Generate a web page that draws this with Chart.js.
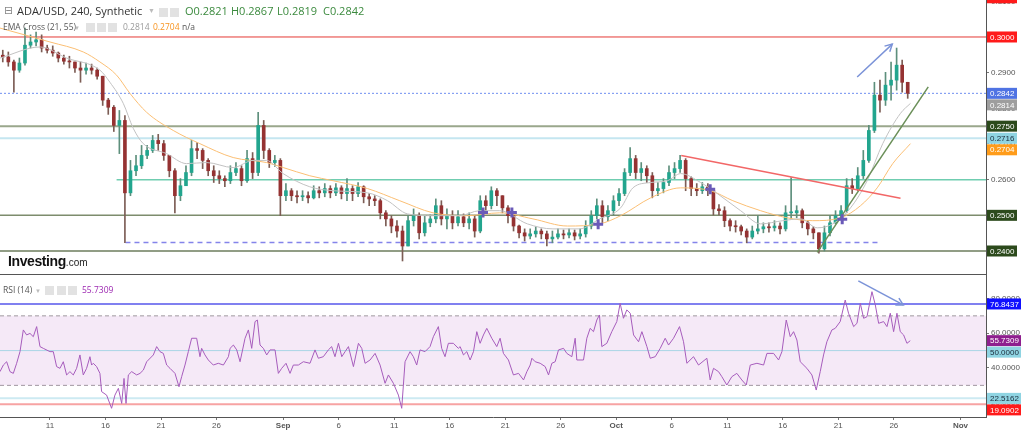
<!DOCTYPE html>
<html>
<head>
<meta charset="utf-8">
<script src="https://cdn.jsdelivr.net/npm/chart.js@4.4.1/dist/chart.umd.min.js"></script>
<style>
  body { margin: 0; background: #fff; width: 1024px; height: 433px; overflow: hidden; position: relative; }
  canvas { position: absolute; left: 0; }
  #priceChart { top: 0; }
  #rsiChart { top: 275px; }
  .t { position: absolute; white-space: nowrap; line-height: 1; font-family: "Open Sans", sans-serif; }
  .ic { position: absolute; width: 9px; height: 9px; background: #e2e2e2; }
</style>
</head>
<body>
<canvas id="priceChart" width="1024" height="275"></canvas>
<canvas id="rsiChart" width="1024" height="158"></canvas>

<div class="t" style="left:4px;top:5px;font-size:11px;color:#888;font-family:'DejaVu Sans'">⊟</div>
<div class="t" style="left:17px;top:5px;font-size:11px;color:#333">ADA/USD, 240, Synthetic</div>
<div class="t" style="left:148px;top:7px;font-size:7px;color:#bbb">▼</div>
<span class="ic" style="left:159px;top:8px"></span><span class="ic" style="left:170px;top:8px"></span>
<div class="t" style="left:185px;top:5px;font-size:11px;color:#3b8a3e">O0.2821</div>
<div class="t" style="left:231px;top:5px;font-size:11px;color:#3b8a3e">H0.2867</div>
<div class="t" style="left:277px;top:5px;font-size:11px;color:#3b8a3e">L0.2819</div>
<div class="t" style="left:323px;top:5px;font-size:11px;color:#3b8a3e">C0.2842</div>

<div class="t" style="left:3px;top:23px;font-size:8.5px;color:#555">EMA Cross (21, 55)</div>
<div class="t" style="left:74px;top:25px;font-size:6px;color:#bbb">▼</div>
<span class="ic" style="left:86px;top:23px"></span><span class="ic" style="left:97px;top:23px"></span><span class="ic" style="left:108px;top:23px"></span>
<div class="t" style="left:123px;top:23px;font-size:8.5px;color:#999">0.2814</div>
<div class="t" style="left:153px;top:23px;font-size:8.5px;color:#f7931e">0.2704</div>
<div class="t" style="left:182px;top:23px;font-size:8.5px;color:#555">n/a</div>

<div class="t" style="left:8px;top:254px;font-size:14px;font-weight:bold;color:#111;font-family:'Liberation Sans',Arial;letter-spacing:-0.4px">Investing<span style="font-size:10px;font-weight:normal;color:#222;letter-spacing:0">.com</span></div>

<div class="t" style="left:3px;top:286px;font-size:8.5px;color:#555">RSI (14)</div>
<div class="t" style="left:35px;top:288px;font-size:6px;color:#bbb">▼</div>
<span class="ic" style="left:45px;top:286px"></span><span class="ic" style="left:57px;top:286px"></span><span class="ic" style="left:68px;top:286px"></span>
<div class="t" style="left:82px;top:286px;font-size:8.5px;color:#9c27b0">55.7309</div>

<script>
// time is in days, Aug 1 = 0; one candle every 12 hours
const candleStart = 5.75;
const candleStep = 0.5;

const opens = [
  0.2949,0.2944,0.2930,0.2907,0.2927,0.2977,0.2986,0.2992,0.2969,0.2963,
  0.2955,0.2941,0.2932,0.2930,0.2913,0.2907,0.2913,0.2907,0.2890,0.2823,
  0.2803,0.2752,0.2766,0.2563,0.2625,0.2639,0.2668,0.2682,0.2710,0.2701,
  0.2668,0.2625,0.2555,0.2583,0.2620,0.2687,0.2682,0.2654,0.2625,0.2611,
  0.2603,0.2597,0.2620,0.2631,0.2597,0.2659,0.2620,0.2752,0.2682,0.2648,
  0.2654,0.2555,0.2569,0.2555,0.2552,0.2555,0.2549,0.2569,0.2563,0.2575,
  0.2563,0.2577,0.2561,0.2575,0.2561,0.2580,0.2552,0.2546,0.2541,0.2507,
  0.2490,0.2470,0.2456,0.2414,0.2485,0.2499,0.2451,0.2479,0.2490,0.2527,
  0.2490,0.2499,0.2479,0.2496,0.2479,0.2490,0.2456,0.2541,0.2527,0.2569,
  0.2555,0.2521,0.2499,0.2470,0.2451,0.2442,0.2448,0.2456,0.2448,0.2434,
  0.2439,0.2448,0.2445,0.2451,0.2442,0.2448,0.2470,0.2499,0.2527,0.2496,
  0.2513,0.2541,0.2561,0.2620,0.2659,0.2620,0.2631,0.2611,0.2569,0.2575,
  0.2592,0.2620,0.2631,0.2654,0.2603,0.2575,0.2569,0.2580,0.2569,0.2518,
  0.2513,0.2485,0.2470,0.2468,0.2456,0.2439,0.2456,0.2462,0.2468,0.2465,
  0.2470,0.2462,0.2507,0.2507,0.2513,0.2479,0.2462,0.2451,0.2406,0.2451,
  0.2479,0.2499,0.2513,0.2583,0.2575,0.2611,0.2654,0.2738,0.2837,0.2823,
  0.2865,0.2879,0.2921,0.2873
];
const highs = [
  0.2963,0.2958,0.2935,0.2941,0.3025,0.3006,0.3014,0.3006,0.2977,0.2975,
  0.2958,0.2949,0.2946,0.2930,0.2930,0.2927,0.2924,0.2913,0.2890,0.2828,
  0.2808,0.2794,0.2780,0.2654,0.2668,0.2696,0.2696,0.2724,0.2727,0.2710,
  0.2668,0.2631,0.2603,0.2639,0.2710,0.2704,0.2687,0.2659,0.2639,0.2625,
  0.2611,0.2639,0.2648,0.2639,0.2682,0.2676,0.2789,0.2766,0.2687,0.2668,
  0.2659,0.2589,0.2575,0.2569,0.2569,0.2566,0.2583,0.2580,0.2589,0.2583,
  0.2589,0.2583,0.2603,0.2583,0.2592,0.2583,0.2561,0.2555,0.2546,0.2513,
  0.2499,0.2485,0.2470,0.2499,0.2518,0.2507,0.2499,0.2501,0.2546,0.2541,
  0.2518,0.2513,0.2513,0.2504,0.2507,0.2499,0.2555,0.2555,0.2580,0.2575,
  0.2555,0.2527,0.2507,0.2473,0.2462,0.2462,0.2468,0.2462,0.2456,0.2456,
  0.2462,0.2459,0.2462,0.2459,0.2462,0.2485,0.2513,0.2546,0.2541,0.2527,
  0.2555,0.2575,0.2631,0.2690,0.2668,0.2648,0.2639,0.2620,0.2592,0.2603,
  0.2639,0.2648,0.2668,0.2659,0.2608,0.2589,0.2592,0.2589,0.2575,0.2530,
  0.2524,0.2490,0.2485,0.2473,0.2462,0.2470,0.2499,0.2479,0.2479,0.2485,
  0.2479,0.2527,0.2606,0.2527,0.2518,0.2485,0.2468,0.2451,0.2470,0.2499,
  0.2513,0.2527,0.2603,0.2603,0.2634,0.2682,0.2752,0.2873,0.2879,0.2901,
  0.2930,0.2969,0.2935,0.2873
];
const lows = [
  0.2930,0.2918,0.2845,0.2901,0.2921,0.2969,0.2975,0.2958,0.2955,0.2946,
  0.2930,0.2924,0.2913,0.2901,0.2873,0.2896,0.2896,0.2882,0.2808,0.2783,
  0.2735,0.2673,0.2423,0.2555,0.2611,0.2631,0.2659,0.2676,0.2682,0.2654,
  0.2608,0.2507,0.2541,0.2583,0.2611,0.2659,0.2631,0.2611,0.2592,0.2589,
  0.2580,0.2589,0.2611,0.2583,0.2592,0.2603,0.2611,0.2659,0.2634,0.2637,
  0.2499,0.2541,0.2541,0.2535,0.2541,0.2535,0.2546,0.2549,0.2552,0.2549,
  0.2555,0.2546,0.2541,0.2541,0.2552,0.2535,0.2527,0.2527,0.2490,0.2470,
  0.2451,0.2439,0.2372,0.2414,0.2470,0.2434,0.2442,0.2468,0.2479,0.2473,
  0.2462,0.2462,0.2470,0.2468,0.2462,0.2439,0.2451,0.2507,0.2518,0.2527,
  0.2507,0.2479,0.2456,0.2437,0.2428,0.2434,0.2439,0.2434,0.2414,0.2423,
  0.2434,0.2434,0.2437,0.2431,0.2434,0.2439,0.2462,0.2490,0.2479,0.2485,
  0.2501,0.2527,0.2555,0.2611,0.2603,0.2597,0.2592,0.2549,0.2555,0.2563,
  0.2583,0.2603,0.2620,0.2569,0.2555,0.2555,0.2561,0.2555,0.2501,0.2501,
  0.2468,0.2456,0.2453,0.2445,0.2423,0.2434,0.2448,0.2451,0.2453,0.2456,
  0.2448,0.2456,0.2490,0.2493,0.2465,0.2445,0.2434,0.2394,0.2400,0.2442,
  0.2476,0.2493,0.2507,0.2561,0.2569,0.2603,0.2648,0.2732,0.2789,0.2808,
  0.2823,0.2851,0.2845,0.2828
];
const closes = [
  0.2944,0.2930,0.2907,0.2927,0.2977,0.2986,0.2992,0.2969,0.2963,0.2955,
  0.2941,0.2932,0.2930,0.2913,0.2907,0.2913,0.2907,0.2890,0.2823,0.2803,
  0.2752,0.2766,0.2563,0.2625,0.2639,0.2668,0.2682,0.2710,0.2701,0.2668,
  0.2625,0.2555,0.2583,0.2620,0.2687,0.2682,0.2654,0.2625,0.2611,0.2603,
  0.2597,0.2620,0.2631,0.2597,0.2659,0.2620,0.2752,0.2682,0.2648,0.2654,
  0.2555,0.2569,0.2555,0.2552,0.2555,0.2549,0.2569,0.2563,0.2575,0.2563,
  0.2577,0.2561,0.2575,0.2561,0.2580,0.2552,0.2546,0.2541,0.2507,0.2490,
  0.2470,0.2456,0.2414,0.2485,0.2499,0.2451,0.2479,0.2490,0.2527,0.2490,
  0.2499,0.2479,0.2496,0.2479,0.2490,0.2456,0.2541,0.2527,0.2569,0.2555,
  0.2521,0.2499,0.2470,0.2451,0.2442,0.2448,0.2456,0.2448,0.2434,0.2439,
  0.2448,0.2445,0.2451,0.2442,0.2448,0.2470,0.2499,0.2527,0.2496,0.2513,
  0.2541,0.2561,0.2620,0.2659,0.2620,0.2631,0.2611,0.2569,0.2575,0.2592,
  0.2620,0.2631,0.2654,0.2603,0.2575,0.2569,0.2580,0.2569,0.2518,0.2513,
  0.2485,0.2470,0.2468,0.2456,0.2439,0.2456,0.2462,0.2468,0.2465,0.2470,
  0.2462,0.2507,0.2507,0.2513,0.2479,0.2462,0.2451,0.2406,0.2451,0.2479,
  0.2499,0.2513,0.2583,0.2575,0.2611,0.2654,0.2738,0.2837,0.2823,0.2865,
  0.2879,0.2921,0.2873,0.2842
];

// EMA Cross (21, 55)
const ema21Days = [5.5,9.1,11.5,14.5,15.4,16.6,17.5,18.4,20.5,22.3,24.1,26.5,28.3,29.5,31.0,33.4,35.5,38.6,40.4,42.2,
  44.5,46.9,48.7,50.5,53.0,55.3,57.7,59.5,61.4,62.5,64.1,65.6,66.8,68.6,70.1,72.2,74.0,76.0,77.6,79.1,80.5,82.1,83.6,85.0,86.6,87.5];
const ema21 = [0.2941,0.2972,0.2941,0.2907,0.2873,0.2814,0.2744,0.2701,0.2673,0.2645,0.2648,0.2634,0.2654,0.2654,0.2617,0.2580,0.2569,0.2563,0.2541,0.2504,
  0.2499,0.2499,0.2513,0.2513,0.2476,0.2462,0.2462,0.2490,0.2521,0.2577,0.2592,0.2597,0.2617,0.2592,0.2561,0.2513,0.2476,0.2485,0.2490,0.2465,0.2476,0.2521,0.2597,0.2701,0.2786,0.2814];
const ema55Days = [5.5,10.0,13.0,14.5,16.0,17.2,18.7,21.1,23.5,26.5,29.5,31.0,33.4,35.5,38.6,41.5,44.5,47.6,50.5,53.5,
  56.6,59.5,61.4,64.1,66.8,69.5,71.5,74.0,76.4,78.7,81.2,83.0,84.5,85.9,87.5];
const ema55 = [0.3025,0.2986,0.2958,0.2930,0.2893,0.2842,0.2789,0.2738,0.2701,0.2662,0.2648,0.2634,0.2611,0.2597,0.2575,0.2541,0.2507,0.2499,0.2507,0.2490,
  0.2470,0.2476,0.2499,0.2549,0.2577,0.2569,0.2541,0.2513,0.2493,0.2485,0.2493,0.2527,0.2577,0.2645,0.2701];
const crossDays = [49.0, 51.6, 59.37, 69.46, 81.35];
const crossPrices = [0.2508, 0.2508, 0.2475, 0.2573, 0.2489];

// RSI (14)
const rsiDays = [
  5.50,5.80,6.10,6.40,6.70,7.00,7.30,7.60,7.90,8.20,8.50,8.80,9.10,9.40,10.00,10.30,10.60,10.90,11.20,11.50,
  11.80,12.10,12.40,12.70,13.00,13.30,13.60,13.75,13.90,14.20,14.50,14.65,15.10,15.55,15.85,16.16,16.46,16.67,16.85,17.06,
  17.36,17.81,18.11,18.41,18.71,19.31,19.61,19.91,20.21,20.51,20.81,21.26,21.62,21.86,22.16,22.46,22.76,23.21,23.51,23.66,
  23.96,24.26,24.71,25.16,25.62,26.07,26.22,26.52,26.82,27.12,27.57,27.87,28.17,28.47,28.68,28.92,29.22,29.52,29.82,30.27,
  30.57,30.87,31.26,31.62,31.92,32.37,32.82,33.42,33.87,34.17,34.62,35.07,35.37,35.67,35.98,36.28,36.58,36.88,37.33,37.78,
  38.08,38.38,38.83,39.28,39.73,40.18,40.48,40.93,41.38,41.68,41.98,42.43,42.73,43.03,43.33,43.78,44.23,44.53,44.98,45.28,
  45.58,45.88,46.33,46.78,
  46.94,47.24,47.54,47.84,48.14,48.44,48.74,49.04,49.34,49.79,50.24,50.54,50.84,51.29,51.74,52.20,52.65,52.95,53.25,53.40,
  53.70,54.15,54.60,54.90,55.20,55.50,55.80,56.25,56.55,57.00,57.30,57.45,58.05,58.35,58.65,58.95,59.25,59.49,59.70,60.15,
  60.60,61.05,61.35,61.65,61.95,62.26,62.56,63.01,63.31,63.76,64.06,64.51,64.96,65.41,65.71,66.16,66.70,67.06,67.36,67.96,
  68.41,69.16,69.46,69.76,70.21,70.51,70.96,71.41,71.86,72.31,72.71,73.07,73.67,74.27,74.57,75.17,75.62,75.92,76.31,76.67,
  76.97,77.27,77.57,78.17,78.62,79.01,79.37,79.67,79.97,80.42,80.72,81.17,81.62,81.92,82.38,82.68,82.98,83.28,83.58,84.03,
  84.33,84.63,85.08,85.38,85.68,85.98,86.28,86.58,86.88,87.18,87.48
];
const rsiValues = [
  37.9,41.7,43.6,37.9,36.9,42.7,49.4,61.9,59.0,59.9,58.0,63.8,52.3,51.3,49.4,49.4,40.8,39.8,43.6,36.0,
  37.9,36.0,39.8,47.5,36.0,39.8,46.5,41.7,42.7,40.8,36.9,26.4,24.4,16.8,24.4,28.3,19.6,34.0,19.6,36.0,
  37.9,36.0,36.9,38.8,43.6,47.5,52.3,49.4,48.4,41.7,39.8,36.9,29.2,35.0,41.7,49.4,57.1,57.1,46.5,51.3,
  47.5,44.6,41.7,42.7,41.7,46.5,51.3,53.2,50.4,43.6,57.1,61.9,51.3,66.7,67.6,53.2,51.3,47.5,50.4,50.4,
  36.9,39.8,42.7,36.9,41.7,41.7,43.6,42.7,50.4,45.6,46.5,50.4,52.3,46.5,54.2,46.5,49.4,52.3,40.8,54.2,
  51.3,42.7,44.6,48.4,41.7,31.2,36.0,31.2,24.4,16.8,43.6,49.4,46.5,41.7,50.4,49.4,52.3,58.0,63.8,51.3,
  46.5,54.2,54.2,51.3,
  52.3,47.5,49.4,44.6,49.4,60.9,54.2,59.0,62.8,57.1,52.3,57.1,48.4,44.6,36.0,36.9,33.1,37.9,41.7,45.6,
  43.6,42.7,40.8,36.0,42.7,43.6,50.4,51.3,48.4,46.5,57.1,44.6,44.6,57.1,62.8,60.9,67.6,70.5,52.3,54.2,
  60.9,66.7,77.2,68.6,73.4,71.5,59.0,55.1,60.9,52.3,45.6,46.5,51.3,57.1,53.2,57.1,63.8,55.1,42.7,46.5,
  41.7,45.6,33.1,39.8,37.9,35.0,30.2,35.0,36.9,33.1,30.2,41.7,42.7,41.7,48.4,48.4,44.6,49.4,67.6,58.0,
  60.9,56.1,43.6,39.8,36.0,27.3,37.9,47.5,55.1,61.9,62.8,66.7,79.1,71.5,63.8,65.7,77.2,68.6,69.5,83.9,
  76.3,65.7,66.7,63.8,71.5,60.9,71.5,60.9,59.0,54.2,55.7
];

// drawn levels and lines
const resistance = 0.3000;
const lastPrice = 0.2842;
const level2750 = 0.2750;
const level2716 = 0.2716;
const level2600 = 0.2600, level2600From = 16.0;
const supportLevels = [0.2500, 0.2400];
const dashedLow = 0.2424, dashedFrom = 16.8, dashedTo = 84.6;
const redTrendDays = [66.85, 86.6], redTrendPrices = [0.2668, 0.2548];
const greenTrendDays = [79.1, 89.1], greenTrendPrices = [0.2396, 0.2860];
const priceArrowDays = [82.7, 85.86], priceArrowPrices = [0.2888, 0.2980];
const rsiArrowDays = [82.8, 86.85], rsiArrowValues = [90.1, 76.3];
const rsiLevels = { top: 76.8437, upper: 70, mid: 50, lower: 30, low1: 22.5162, low2: 19.0902 };

const priceMarks = [0.3110, 0.3000, 0.2842, 0.2814, 0.2750, 0.2716, 0.2704, 0.2500, 0.2400];
const rsiMarks = [76.8437, 55.7309, 50.0000, 22.5162, 19.0902];
const priceTicks = [0.24, 0.25, 0.26, 0.27, 0.28, 0.29, 0.30, 0.31];
const rsiTicks = [20, 40, 60, 80];
const tickDays = [10, 15, 20, 25, 31, 36, 41, 46, 51, 56, 61, 66, 71, 76, 81, 86, 92];
const tickLabels = ['11', '16', '21', '26', 'Sep', '6', '11', '16', '21', '26', 'Oct', '6', '11', '16', '21', '26', 'Nov'];

const dayMin = 5.5, dayMax = 94.3;

// ---- styles for the axis value boxes
const priceMarkStyle = [
  ['#ff1a1a', '#fff'], ['#ff1a1a', '#fff'], ['#4f73e3', '#fff'], ['#9e9e9e', '#fff'], ['#2c4a1c', '#fff'],
  ['#8fd4e2', '#1a2a3a'], ['#ff9c1a', '#fff'], ['#2c4a1c', '#fff'], ['#2c4a1c', '#fff']
];
const rsiMarkStyle = [['#1010ff', '#fff'], ['#8e1f8e', '#fff'], ['#8fd4e2', '#1a2a3a'], ['#8fd4e2', '#1a2a3a'], ['#ff1a1a', '#fff']];

Chart.defaults.font.family = '"Liberation Sans", Arial, sans-serif';
Chart.defaults.font.size = 8;
Chart.defaults.color = '#555';

const candleDays = closes.map((c, i) => candleStart + i * candleStep);
const up = closes.map((c, i) => c >= opens[i]);

function hline(y, from, to, color, width, dash, order) {
  return {
    type: 'line', data: [{ x: from, y: y }, { x: to, y: y }],
    borderColor: color, borderWidth: width, borderDash: dash || [], pointRadius: 0, order: order || 20
  };
}
function seg(days, vals, color, width, order, extra) {
  return Object.assign({
    type: 'line', data: days.map((d, i) => ({ x: d, y: vals[i] })),
    borderColor: color, borderWidth: width, pointRadius: 0, order: order
  }, extra || {});
}

const axisBoxes = {
  id: 'axisBoxes',
  afterDraw(chart, args, opts) {
    const sc = chart.scales.y;
    const ctx = chart.ctx;
    let last = -1e9;
    ctx.save();
    ctx.font = '8px "Liberation Sans", Arial, sans-serif';
    ctx.textBaseline = 'middle';
    opts.values.forEach((v, i) => {
      const y = Math.max(sc.getPixelForValue(v), last + 11.5);
      last = y;
      ctx.fillStyle = opts.styles[i][0];
      ctx.fillRect(sc.left + 1, y - 5.5, opts.width, 11);
      ctx.fillStyle = opts.styles[i][1];
      ctx.fillText(v.toFixed(4), sc.left + 4, y + 0.5);
    });
    ctx.restore();
  }
};

const arrowHeads = {
  id: 'arrowHeads',
  afterDatasetsDraw(chart) {
    const ctx = chart.ctx;
    chart.data.datasets.forEach((ds, i) => {
      if (!ds.arrow) return;
      const pts = chart.getDatasetMeta(i).data;
      const a = pts[pts.length - 2], b = pts[pts.length - 1];
      const ang = Math.atan2(b.y - a.y, b.x - a.x);
      ctx.save();
      ctx.strokeStyle = ds.borderColor;
      ctx.lineWidth = 1.5;
      ctx.beginPath();
      ctx.moveTo(b.x - 8 * Math.cos(ang - 0.5), b.y - 8 * Math.sin(ang - 0.5));
      ctx.lineTo(b.x, b.y);
      ctx.lineTo(b.x - 8 * Math.cos(ang + 0.5), b.y - 8 * Math.sin(ang + 0.5));
      ctx.stroke();
      ctx.restore();
    });
  }
};

const bottomRule = {
  id: 'bottomRule',
  afterDraw(chart) {
    const a = chart.chartArea;
    chart.ctx.fillStyle = '#555';
    chart.ctx.fillRect(0, a.bottom - 1, a.right, 1);
  }
};

function xScale(shown) {
  const s = {
    type: 'linear', min: dayMin, max: dayMax, offset: false, display: shown,
    grid: { drawOnChartArea: false, tickLength: 3, color: '#777' },
    border: { color: '#555' },
    afterBuildTicks: (sc) => { sc.ticks = tickDays.map(v => ({ value: v })); },
    ticks: {
      autoSkip: false, maxRotation: 0, padding: 1, color: '#555',
      font: (c) => ({ size: 8, weight: /[A-Z]/.test(c.tick ? tickLabels[tickDays.indexOf(c.tick.value)] : '') ? 'bold' : 'normal' }),
      callback: (v) => tickLabels[tickDays.indexOf(v)]
    }
  };
  if (shown) s.afterFit = (sc) => { sc.height = 16; sc.paddingLeft = 0; sc.paddingRight = 0; };
  return s;
}

function yScale(min, max, ticks) {
  return {
    type: 'linear', position: 'right', min: min, max: max,
    grid: { drawOnChartArea: false, tickLength: 3, color: '#777' },
    border: { color: '#555' },
    afterBuildTicks: (s) => { s.ticks = ticks.map(v => ({ value: v })); },
    ticks: { padding: 2, color: '#555', callback: (v) => v.toFixed(4) },
    afterFit: (s) => { s.width = 38; s.paddingTop = 0; s.paddingBottom = 0; }
  };
}

new Chart(document.getElementById('priceChart'), {
  type: 'bar',
  data: {
    datasets: [
      hline(resistance, dayMin, dayMax, '#e53935', 1),
      hline(lastPrice, dayMin, dayMax, '#6f8ff0', 1, [2, 2]),
      hline(level2750, dayMin, dayMax, '#9aa78c', 2),
      hline(level2716, dayMin, dayMax, '#c4e6f0', 2),
      hline(level2600, level2600From, dayMax, '#6fcdb0', 1.5),
      hline(supportLevels[0], dayMin, dayMax, '#7d8c6d', 1.5),
      hline(supportLevels[1], dayMin, dayMax, '#6d7d5d', 1.5),
      hline(dashedLow, dashedFrom, dashedTo, '#8484ea', 1.5, [5, 4]),
      {
        type: 'bar', order: 10, grouped: false, barThickness: 1,
        data: candleDays.map((d, i) => ({ x: d, y: [lows[i], highs[i]] })),
        backgroundColor: up.map(u => u ? '#5d8f7c' : '#7c5d55')
      },
      {
        type: 'bar', order: 9, grouped: false, barThickness: 3, minBarLength: 1,
        data: candleDays.map((d, i) => ({ x: d, y: [opens[i], closes[i]] })),
        backgroundColor: up.map(u => u ? '#22a58e' : '#953232')
      },
      seg(ema21Days, ema21, '#c2c2c2', 1, 8, { cubicInterpolationMode: 'monotone' }),
      seg(ema55Days, ema55, '#fbbf74', 1, 8, { cubicInterpolationMode: 'monotone' }),
      seg(redTrendDays, redTrendPrices, '#f26767', 1.5, 5),
      seg(greenTrendDays, greenTrendPrices, '#6a8f58', 1.5, 5),
      seg(priceArrowDays, priceArrowPrices, '#7b93d8', 1.5, 5, { arrow: true }),
      {
        type: 'scatter', order: 1,
        data: crossDays.map((d, i) => ({ x: d, y: crossPrices[i] })),
        pointStyle: 'cross', pointRadius: 5, borderWidth: 3, borderColor: '#6a5ab8'
      }
    ]
  },
  options: {
    responsive: false, animation: false,
    layout: { padding: 0, autoPadding: false },
    plugins: {
      legend: { display: false }, tooltip: { enabled: false },
      axisBoxes: { values: priceMarks, styles: priceMarkStyle, width: 30 }
    },
    scales: {
      x: xScale(false),
      y: yScale(0.23327, 0.31037, priceTicks)
    }
  },
  plugins: [axisBoxes, arrowHeads, bottomRule]
});

new Chart(document.getElementById('rsiChart'), {
  type: 'line',
  data: {
    datasets: [
      Object.assign(hline(rsiLevels.upper, dayMin, dayMax, '#a09aa0', 1, [4, 3], 30),
        { fill: { value: rsiLevels.lower }, backgroundColor: 'rgba(156,39,176,0.1)' }),
      hline(rsiLevels.lower, dayMin, dayMax, '#a09aa0', 1, [4, 3], 30),
      hline(rsiLevels.mid, dayMin, dayMax, '#a9d6e6', 1, null, 25),
      hline(rsiLevels.top, dayMin, dayMax, '#8080f0', 2, null, 25),
      hline(rsiLevels.low1, dayMin, dayMax, '#cdeaf2', 2, null, 25),
      hline(rsiLevels.low2, dayMin, dayMax, '#f7a3a3', 2, null, 25),
      seg(rsiDays, rsiValues, '#a65cbc', 1, 5),
      seg(rsiArrowDays, rsiArrowValues, '#7b93d8', 1.5, 4, { arrow: true })
    ]
  },
  options: {
    responsive: false, animation: false,
    layout: { padding: 0, autoPadding: false },
    plugins: {
      legend: { display: false }, tooltip: { enabled: false },
      axisBoxes: { values: rsiMarks, styles: rsiMarkStyle, width: 34 }
    },
    scales: {
      x: xScale(true),
      y: yScale(11.8, 93.5, rsiTicks)
    }
  },
  plugins: [axisBoxes, arrowHeads]
});
</script>
</body>
</html>
